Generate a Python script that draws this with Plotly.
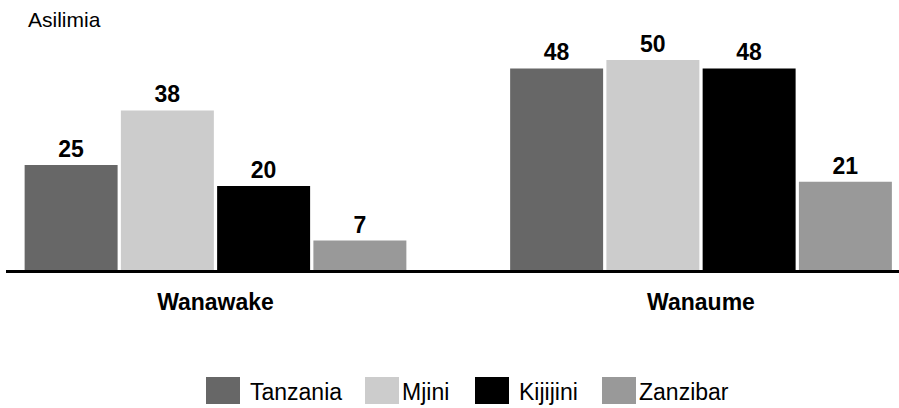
import plotly.graph_objects as go

# ---- data ----
categories = ["Wanawake", "Wanaume"]
series_names = ["Tanzania", "Mjini", "Kijijini", "Zanzibar"]
tanzania = [25, 48]
mjini = [38, 50]
kijijini = [20, 48]
zanzibar = [7, 21]
series_values = [tanzania, mjini, kijijini, zanzibar]
y_title = "Asilimia"

# ---- styles ----
colors = ["#676767", "#cccccc", "#000000", "#999999"]
FONT = "Liberation Sans, Arial, sans-serif"

W, H = 899, 408
ML, MR, MT, MB = 6, 0, 18, 138
PW, PH = W - ML - MR, H - MT - MB

fig = go.Figure()
for name, vals, col in zip(series_names, series_values, colors):
    fig.add_trace(go.Bar(
        name=name, x=categories, y=vals, marker=dict(color=col, line=dict(width=0)),
        text=[str(v) for v in vals], textposition="outside",
        textfont=dict(family=FONT, size=23, color="#000000", weight="bold"),
        cliponaxis=False, showlegend=False,
    ))

def px_x(px):
    return (px - ML) / PW

def px_y(py):
    return (H - MB - py) / PH

# custom legend with large keys
legend_box_x = [206, 365, 475, 602]
legend_text_x = [248, 400, 517, 637]
shapes = []
annotations = []
for name, col, bx, tx in zip(series_names, colors, legend_box_x, legend_text_x):
    shapes.append(dict(type="rect", xref="paper", yref="paper",
                       x0=px_x(bx), x1=px_x(bx + 34), y0=px_y(404), y1=px_y(377),
                       fillcolor=col, line=dict(width=0)))
    annotations.append(dict(text=name, xref="paper", yref="paper", x=px_x(tx), y=px_y(392),
                            xanchor="left", yanchor="middle", showarrow=False,
                            font=dict(family=FONT, size=23, color="#000000")))

annotations.append(dict(text=y_title, xref="paper", yref="paper", x=px_x(26), y=px_y(20),
                        xanchor="left", yanchor="middle", showarrow=False,
                        font=dict(family=FONT, size=21, color="#000000")))

fig.update_layout(
    width=W, height=H, margin=dict(l=ML, r=MR, t=MT, b=MB),
    paper_bgcolor="white", plot_bgcolor="white",
    barmode="group", bargap=0.207, bargroupgap=0.034,
    shapes=shapes, annotations=annotations,
    xaxis=dict(type="category", range=[-0.4315, 1.4078], showline=True, linecolor="#000000",
               linewidth=3, ticks="", showgrid=False, ticklabelstandoff=9,
               tickfont=dict(family=FONT, size=23, color="#000000", weight="bold")),
    yaxis=dict(range=[0, 60], visible=False, showgrid=False, zeroline=False),
)

fig.write_html("out.html")
